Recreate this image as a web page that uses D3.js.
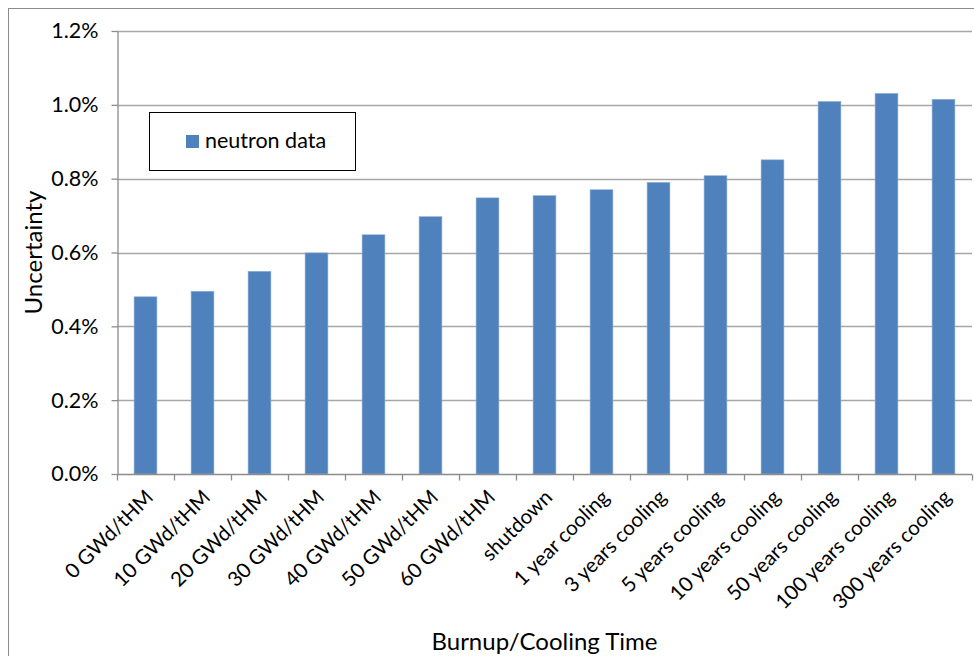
<!DOCTYPE html>
<html>
<head>
<meta charset="utf-8">
<script src="https://cdn.jsdelivr.net/npm/d3@7"></script>
<style>
  html, body { margin: 0; padding: 0; background: #fff; }
  svg { display: block; font-family: Lato, "Open Sans", sans-serif; }
</style>
</head>
<body>
<svg id="chart" width="974" height="656"></svg>
<script>
// Burnup / cooling-time steps along the x axis
const categories = [
  "0 GWd/tHM", "10 GWd/tHM", "20 GWd/tHM", "30 GWd/tHM", "40 GWd/tHM",
  "50 GWd/tHM", "60 GWd/tHM", "shutdown", "1 year cooling", "3 years cooling",
  "5 years cooling", "10 years cooling", "50 years cooling", "100 years cooling",
  "300 years cooling"
];
// Uncertainty (in %) due to neutron data
const neutronData = [
  0.480, 0.495, 0.549, 0.599, 0.648,
  0.697, 0.748, 0.754, 0.770, 0.790,
  0.808, 0.851, 1.009, 1.031, 1.015
];
const yTicks = [0, 0.2, 0.4, 0.6, 0.8, 1.0, 1.2];
const seriesName = "neutron data";
const xTitle = "Burnup/Cooling Time";
const yTitle = "Uncertainty";

const svg = d3.select("#chart");
const margin = { left: 117, right: 2, top: 31, bottom: 182 };
const W = 974, H = 656;
const x0 = margin.left, x1 = W - margin.right;
const yTop = margin.top, yBot = H - margin.bottom;

const x = d3.scaleBand().domain(categories).range([x0, x1]).paddingInner(0.6).paddingOuter(0.3);
const y = d3.scaleLinear().domain([0, 1.2]).range([yBot, yTop]);

const gridColor = "#a6a6a6";
const axisColor = "#8c8c8c";
const barColor = "#4f81bd";
const tickFont = 21.5;
const catFont = 20.5;
const titleFont = 24;

// outer chart frame
svg.append("rect")
  .attr("x", 8.5).attr("y", 8.5)
  .attr("width", 1000).attr("height", 1000)
  .attr("fill", "none").attr("stroke", "#8c8c8c").attr("stroke-width", 1);

// horizontal gridlines
svg.append("g")
  .selectAll("line")
  .data(yTicks.filter(d => d > 0))
  .join("line")
  .attr("x1", x0).attr("x2", x1)
  .attr("y1", d => Math.round(y(d)) + 0.5).attr("y2", d => Math.round(y(d)) + 0.5)
  .attr("stroke", gridColor).attr("stroke-width", 1.3);

// bars
svg.append("g")
  .selectAll("rect")
  .data(categories.map((c, i) => ({ c, v: neutronData[i] })))
  .join("rect")
  .attr("x", d => x(d.c))
  .attr("width", x.bandwidth())
  .attr("y", d => y(d.v))
  .attr("height", d => y(0) - y(d.v))
  .attr("fill", barColor)
  .attr("stroke", "#8eb0d8").attr("stroke-width", 0.6);

// y axis
const yAxis = d3.axisLeft(y)
  .tickValues(yTicks)
  .tickFormat(d => d.toFixed(1) + "%")
  .tickSizeOuter(0).tickSizeInner(6).tickPadding(13);
const gy = svg.append("g")
  .attr("transform", `translate(${x0 + 0.5},0)`)
  .call(yAxis);
gy.select(".domain").attr("stroke", axisColor).attr("stroke-width", 1.3);
gy.selectAll(".tick line").attr("stroke", axisColor).attr("stroke-width", 1.3);
gy.selectAll(".tick text")
  .attr("fill", "#000").attr("font-size", tickFont).attr("font-family", "Lato, sans-serif");

// x axis: ticks sit on band boundaries
const gx = svg.append("g").attr("transform", `translate(0,${Math.round(yBot) + 0.5})`);
gx.append("line")
  .attr("x1", x0).attr("x2", x1)
  .attr("stroke", axisColor).attr("stroke-width", 1.3);
const boundaries = d3.range(categories.length + 1).map(i => x0 + i * (x1 - x0) / categories.length);
gx.selectAll("line.tick")
  .data(boundaries)
  .join("line")
  .attr("class", "tick")
  .attr("x1", d => Math.round(d) + 0.5).attr("x2", d => Math.round(d) + 0.5)
  .attr("y1", 0).attr("y2", 6)
  .attr("stroke", axisColor).attr("stroke-width", 1.3);
gx.selectAll("text")
  .data(categories)
  .join("text")
  .attr("transform", d => `translate(${x(d) + x.bandwidth() / 2 + 4},${19}) rotate(-45)`)
  .attr("text-anchor", "end")
  .attr("dy", "0.35em")
  .attr("font-size", catFont)
  .attr("fill", "#000")
  .text(d => d);

// axis titles
svg.append("text")
  .attr("x", (x0 + x1) / 2).attr("y", 650)
  .attr("text-anchor", "middle")
  .attr("font-size", titleFont)
  .attr("fill", "#000")
  .text(xTitle);
svg.append("text")
  .attr("transform", `translate(42,${(yTop + yBot) / 2}) rotate(-90)`)
  .attr("text-anchor", "middle")
  .attr("font-size", titleFont)
  .attr("fill", "#000")
  .text(yTitle);

// legend
const lg = svg.append("g");
lg.append("rect")
  .attr("x", 149.5).attr("y", 112.5)
  .attr("width", 206).attr("height", 58)
  .attr("fill", "#fff").attr("stroke", "#000").attr("stroke-width", 1);
lg.append("rect")
  .attr("x", 186).attr("y", 135)
  .attr("width", 13).attr("height", 13)
  .attr("fill", barColor);
lg.append("text")
  .attr("x", 205).attr("y", 148)
  .attr("font-size", tickFont)
  .attr("fill", "#000")
  .text(seriesName);
</script>
</body>
</html>
